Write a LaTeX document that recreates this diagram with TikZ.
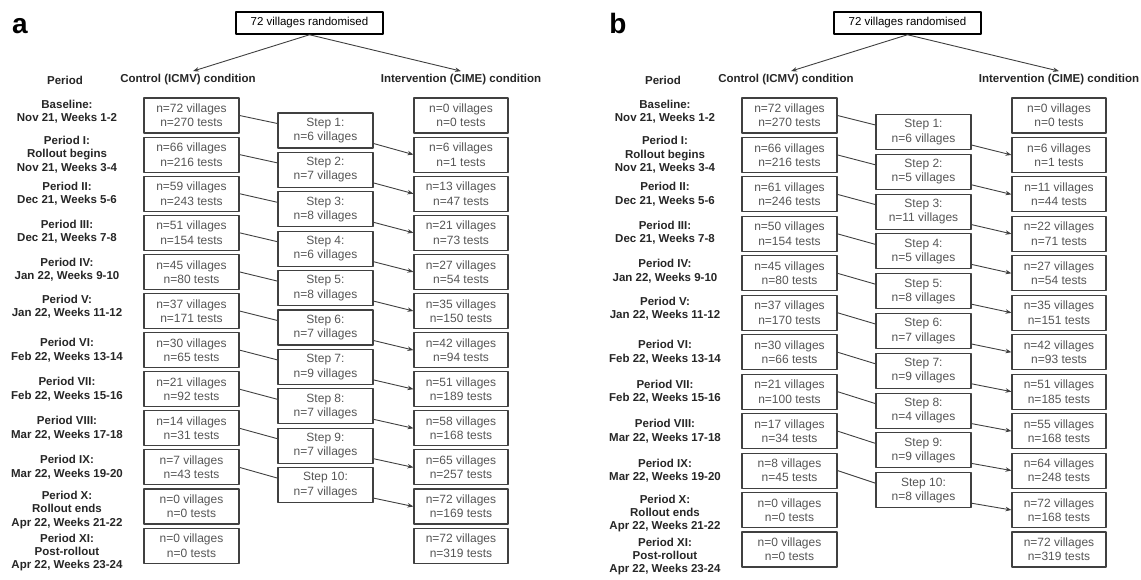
\documentclass[tikz,border=0pt]{standalone}
\usepackage{fontspec}
\setmainfont{Liberation Sans}
\usetikzlibrary{arrows.meta}
\definecolor{boxtext}{HTML}{555555}
\definecolor{boxline}{HTML}{404040}
\begin{document}
\begin{tikzpicture}[x=1pt, y=-1pt, >={Stealth[length=6pt,width=4.5pt]}, line join=round, line cap=round,
		every node/.style={font=\fontsize{11.5}{14.3}\selectfont},
		nbox/.style={draw=boxline, line width=1.1pt, text=boxtext, font=\fontsize{12}{14.3}\selectfont, minimum width=95pt, minimum height=35pt, inner sep=0pt, align=center},
		lbl/.style={font=\fontsize{11.5}{13.4}\selectfont\bfseries, text=black!85, align=center},
		conn/.style={draw=boxline, line width=0.9pt},
		arr/.style={conn, ->}]
	\useasboundingbox (0,0) rectangle (1141,579);
	% panel: letter / x offset / row pitch / step pitch / first step y / control / steps / intervention
	\foreach \p/\ox/\dy/\ds/\sy/\clist/\slist/\ilist in {
		a/0/39.1/39.4/130.5/{72/270,66/216,59/243,51/154,45/80,37/171,30/65,21/92,14/31,7/43,0/0,0/0}/{6,7,8,6,8,7,9,7,7,7}/{0/0,6/1,13/47,21/73,27/54,35/150,42/94,51/189,58/168,65/257,72/169,72/319},
		b/598/39.45/39.8/132/{72/270,66/216,61/246,50/154,45/80,37/170,30/66,21/100,17/34,8/45,0/0,0/0}/{6,5,11,5,8,7,9,4,9,8}/{0/0,6/1,11/44,22/71,27/54,35/151,42/93,51/185,55/168,64/248,72/168,72/319}}{
		\node[font=\fontsize{28}{30}\selectfont\bfseries, anchor=base] (lab\p) at (20+\ox,33) {\p};
		\node[draw, line width=1.5pt, minimum width=147pt, minimum height=22pt, inner sep=0pt] (top\p) at (309.5+\ox,23) {72 villages randomised};
		\node[lbl] (hp\p) at (65+\ox,80) {Period};
		\node[lbl] (hc\p) at (188+\ox,80) {Control (ICMV) condition};
		\node[lbl] (hi\p) at (461+\ox,80) {Intervention (CIME) condition};
		\draw[arr] (top\p.south) -- ([xshift=5pt]hc\p.north);
		\draw[arr] (top\p.south) -- (hi\p.north);
		% period labels
		\foreach \txt/\dd [count=\i from 0] in {
			{Baseline:\\Nov 21, Weeks 1-2}/-4,
			{Period I:\\Rollout begins\\Nov 21, Weeks 3-4}/0,
			{Period II:\\Dec 21, Weeks 5-6}/0,
			{Period III:\\Dec 21, Weeks 7-8}/-1,
			{Period IV:\\Jan 22, Weeks 9-10}/-2,
			{Period V:\\Jan 22, Weeks 11-12}/-4,
			{Period VI:\\Feb 22, Weeks 13-14}/0,
			{Period VII:\\Feb 22, Weeks 15-16}/0,
			{Period VIII:\\Mar 22, Weeks 17-18}/0,
			{Period IX:\\Mar 22, Weeks 19-20}/0,
			{Period X:\\Rollout ends\\Apr 22, Weeks 21-22}/3.5,
			{Period XI:\\Post-rollout\\Apr 22, Weeks 23-24}/7}
		\node[lbl] (l\p\i) at (67+\ox,{115.5+\dy*\i+\dd}) {\txt};
		% control and intervention columns
		\foreach \v/\t [count=\i from 0] in \clist
		\node[nbox] (c\p\i) at (191.5+\ox,{115.5+\dy*\i}) {n=\v{} villages\\n=\t{} tests};
		\foreach \v/\t [count=\i from 0] in \ilist
		\node[nbox, minimum width=94pt] (i\p\i) at (461+\ox,{115.5+\dy*\i}) {n=\v{} villages\\n=\t{} tests};
		% steps
		\foreach \n [count=\k] in \slist
		\node[nbox] (s\p\k) at (325.5+\ox,{\sy+\ds*(\k-1)}) {Step \k:\\n=\n{} villages};
		\foreach \k in {1,...,10}{
			\pgfmathtruncatemacro\j{\k-1}
			\draw[conn] (c\p\j.east) -- ([yshift=7pt]s\p\k.west);
			\draw[arr] ([yshift=-13pt]s\p\k.east) -- (i\p\k.west);
		}
	}
\end{tikzpicture}
\end{document}
